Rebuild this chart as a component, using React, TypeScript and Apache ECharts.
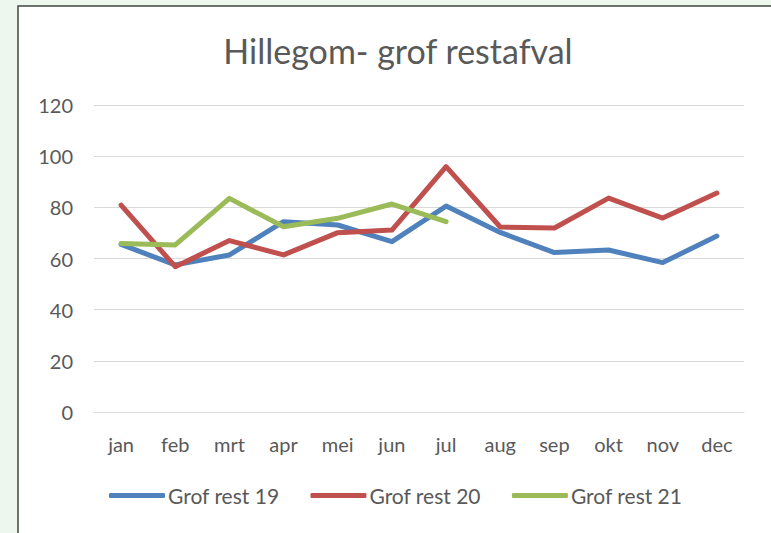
import React, { useEffect, useRef } from "react";
import * as echarts from "echarts";

const months = ["jan", "feb", "mrt", "apr", "mei", "jun", "jul", "aug", "sep", "okt", "nov", "dec"];
const rest19 = [65.5, 57.5, 61.4, 74.4, 73.1, 66.6, 80.5, 70.2, 62.3, 63.3, 58.4, 68.8];
const rest20 = [80.9, 56.8, 67.0, 61.4, 70.1, 71.1, 95.9, 72.3, 71.9, 83.6, 75.8, 85.6];
const rest21 = [65.9, 65.3, 83.5, 72.4, 75.7, 81.3, 74.4];
const seriesNames = ["Grof rest 19", "Grof rest 20", "Grof rest 21"];
const colors = ["#4f81bd", "#c0504d", "#9bbb59"];

const FONT = "Lato, 'Open Sans', sans-serif";

export default function App() {
  const ref = useRef<HTMLDivElement>(null);
  useEffect(() => {
    if (!ref.current) return;
    const chart = echarts.init(ref.current, undefined, { renderer: "svg" });
    const data = [rest19, rest20, rest21];
    chart.setOption({
      animation: false,
      backgroundColor: "#eef7ee",
      graphic: [
        {
          type: "rect",
          shape: { x: 18, y: 6, width: 760, height: 540 },
          style: { fill: "#ffffff", stroke: "#444444", lineWidth: 1.5 },
          z: -10,
          silent: true,
        },
      ],
      title: {
        text: "Hillegom- grof restafval",
        left: 393,
        textAlign: "center",
        top: 28,
        textStyle: { fontFamily: FONT, fontSize: 34, fontWeight: "normal", color: "#595959" },
      },
      legend: {
        left: 104,
        top: 480,
        icon: "roundRect",
        itemWidth: 56,
        itemHeight: 5,
        itemGap: 31,
        data: seriesNames,
        textStyle: { fontFamily: FONT, fontSize: 21, color: "#595959", padding: [0, 0, 0, -2] },
      },
      grid: { left: 94, right: 27, top: 105, bottom: 121, containLabel: false },
      xAxis: {
        type: "category",
        data: months,
        boundaryGap: true,
        axisLine: { lineStyle: { color: "#d9d9d9", width: 1 } },
        axisTick: { show: false },
        axisLabel: { fontFamily: FONT, fontSize: 20, color: "#595959", margin: 22 },
      },
      yAxis: {
        type: "value",
        min: 0,
        max: 120,
        interval: 20,
        axisLine: { show: false },
        axisTick: { show: false },
        splitLine: { lineStyle: { color: "#d9d9d9", width: 1 } },
        axisLabel: { fontFamily: FONT, fontSize: 20, color: "#595959", margin: 21 },
      },
      series: data.map((d, i) => ({
        name: seriesNames[i],
        type: "line",
        data: d,
        showSymbol: false,
        symbol: "none",
        itemStyle: { color: colors[i] },
        lineStyle: { color: colors[i], width: 5, cap: "round", join: "round" },
      })),
    });
    return () => chart.dispose();
  }, []);
  return (
    <div
      ref={ref}
      style={{ position: "fixed", left: 0, top: 0, width: 771, height: 533 }}
    />
  );
}
